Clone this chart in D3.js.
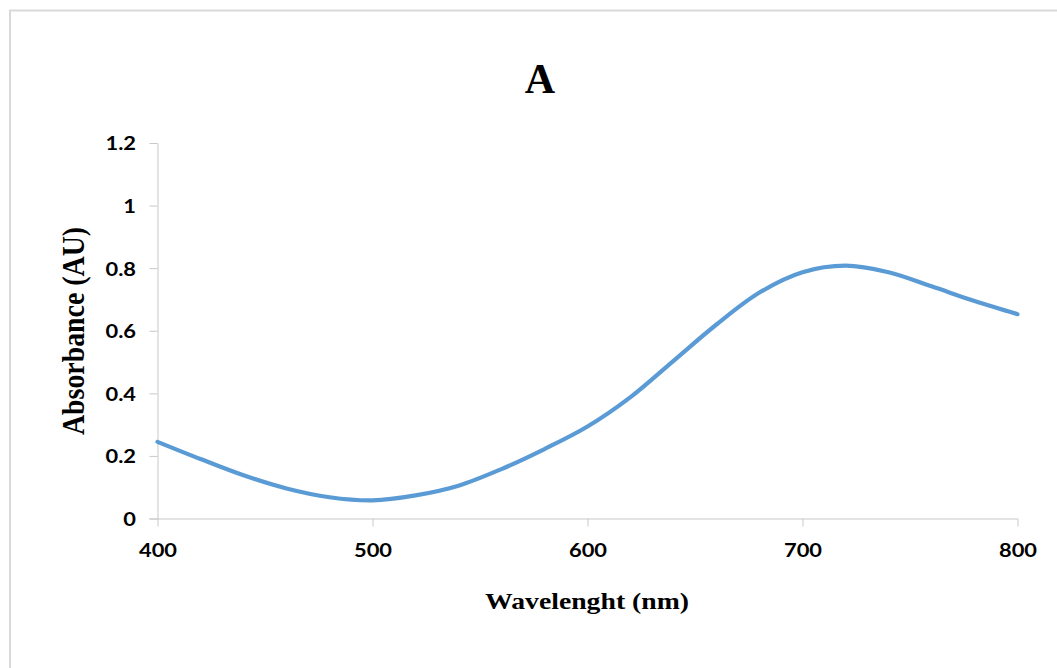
<!DOCTYPE html>
<html>
<head>
<meta charset="utf-8">
<script src="https://cdn.jsdelivr.net/npm/d3@7"></script>
<style>
  html, body { margin: 0; padding: 0; background: #fff; }
  svg { display: block; }
</style>
</head>
<body>
<svg id="chart" width="1057" height="668"></svg>
<script>
// ---- data ----
const wavelengths = [400, 420, 440, 460, 480, 500, 520, 540, 560, 580, 600, 620, 640, 660, 680, 700, 720, 740, 760, 780, 800];
const absorbance  = [0.245, 0.190, 0.138, 0.096, 0.068, 0.058, 0.074, 0.105, 0.158, 0.222, 0.294, 0.388, 0.504, 0.620, 0.722, 0.787, 0.808, 0.787, 0.742, 0.695, 0.653];
const xTicks = [400, 500, 600, 700, 800];
const yTicks = [0, 0.2, 0.4, 0.6, 0.8, 1, 1.2];
const chartTitle = "A";
const xTitle = "Wavelenght (nm)";
const yTitle = "Absorbance (AU)";

const svg = d3.select("#chart");
const STRETCH = 1.15;

// outer chart border (top/left visible, right/bottom run off the picture)
svg.append("rect")
  .attr("x", 10).attr("y", 10.5)
  .attr("width", 1100).attr("height", 700)
  .attr("fill", "#fff")
  .attr("stroke", "#d9d9d9")
  .attr("stroke-width", 2);

const x = d3.scaleLinear().domain([400, 800]).range([157.5, 1017.5]);
const y = d3.scaleLinear().domain([0, 1.2]).range([518.5, 143]);

const axisColor = "#c8c8c8";
const tickFont = "Lato, 'Open Sans', sans-serif";

// y axis
const yAxis = svg.append("g")
  .attr("transform", `translate(${x(400)},0)`)
  .call(d3.axisLeft(y).tickValues(yTicks).tickSize(8).tickSizeOuter(0)
        .tickFormat(d => d3.format("~g")(d)));
yAxis.select(".domain").attr("stroke", axisColor).attr("stroke-width", 1);
yAxis.selectAll(".tick line").attr("stroke", axisColor);
yAxis.selectAll(".tick text")
  .attr("x", -21.5)
  .attr("dy", "0.36em")
  .attr("fill", "#000")
  .style("font-family", tickFont)
  .style("font-weight", "bold")
  .style("font-size", "19px");

// x axis
const xAxis = svg.append("g")
  .attr("transform", `translate(0,${y(0)})`)
  .call(d3.axisBottom(x).tickValues(xTicks).tickSize(8).tickSizeOuter(0));
xAxis.select(".domain").remove();
xAxis.append("line")
  .attr("x1", x(400) - 8).attr("x2", x(800))
  .attr("y1", 0.5).attr("y2", 0.5)
  .attr("stroke", axisColor);
xAxis.selectAll(".tick line").attr("stroke", axisColor);
xAxis.selectAll(".tick text")
  .attr("y", 38.5)
  .attr("dy", 0)
  .attr("fill", "#000")
  .style("font-family", tickFont)
  .style("font-weight", "bold")
  .style("font-size", "19px");

// horizontal stretch of tick labels (reference is widened)
svg.selectAll(".tick text").each(function() {
  const len = this.getComputedTextLength();
  d3.select(this).attr("textLength", len * STRETCH).attr("lengthAdjust", "spacingAndGlyphs");
});

// data line
const line = d3.line()
  .x((d, i) => x(wavelengths[i]))
  .y(d => y(d))
  .curve(d3.curveCatmullRom.alpha(0.5));
svg.append("path")
  .datum(absorbance)
  .attr("d", line)
  .attr("fill", "none")
  .attr("stroke", "#5b9bd5")
  .attr("stroke-width", 4.2)
  .attr("stroke-linecap", "round")
  .attr("stroke-linejoin", "round");

// chart title
svg.append("text")
  .attr("x", 540).attr("y", 93)
  .attr("text-anchor", "middle")
  .style("font-family", "'Liberation Serif', 'Times New Roman', serif")
  .style("font-weight", "bold")
  .style("font-size", "42px")
  .text(chartTitle);

// x axis title
svg.append("text")
  .attr("x", 587).attr("y", 609)
  .attr("text-anchor", "middle")
  .attr("textLength", 204)
  .attr("lengthAdjust", "spacingAndGlyphs")
  .style("font-family", "'Liberation Serif', 'Times New Roman', serif")
  .style("font-weight", "bold")
  .style("font-size", "24px")
  .text(xTitle);

// y axis title
svg.append("text")
  .attr("transform", `translate(84,331) scale(${STRETCH},1) rotate(-90)`)
  .attr("text-anchor", "middle")
  .attr("textLength", 208)
  .attr("lengthAdjust", "spacingAndGlyphs")
  .style("font-family", "'Liberation Serif', 'Times New Roman', serif")
  .style("font-weight", "bold")
  .style("font-size", "27px")
  .text(yTitle);
</script>
</body>
</html>
